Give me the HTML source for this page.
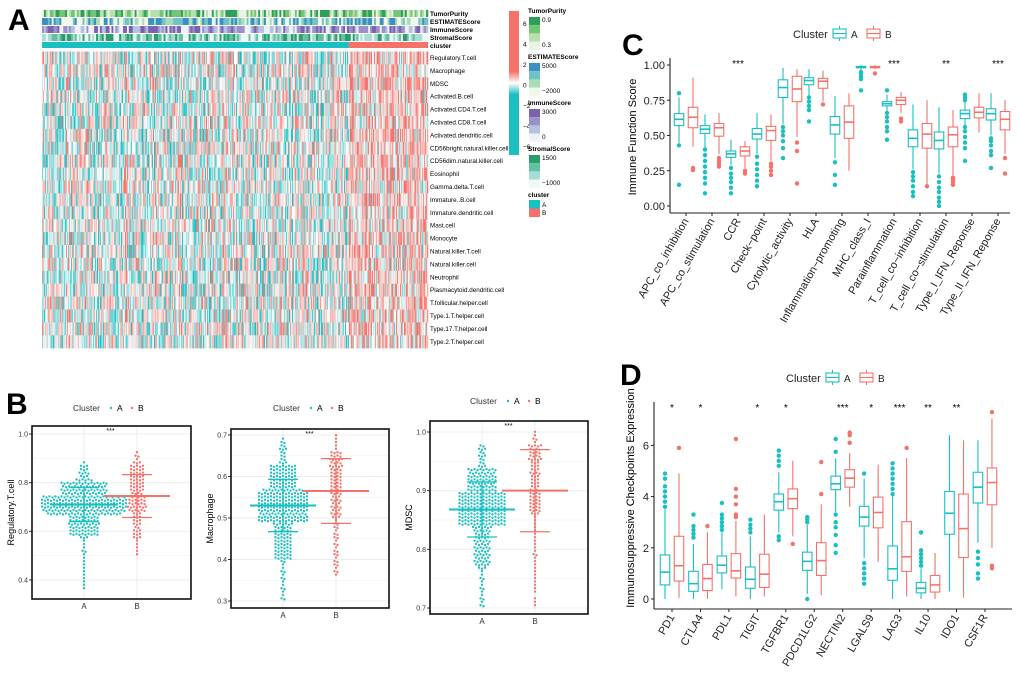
<!DOCTYPE html>
<html><head><meta charset="utf-8"><style>
html,body{margin:0;padding:0;background:#fff}
svg{display:block;font-family:"Liberation Sans",sans-serif}
</style></head><body>
<svg id="fig" width="1020" height="673" viewBox="0 0 1020 673">
<rect width="1020" height="673" fill="#fff"/>
<g id="pA"></g>
<g id="pB"></g>
<g id="pC"></g>
<g id="pD"></g>
</svg>
<script>
const NS="http://www.w3.org/2000/svg";
const CA="#1ABFC2", CB="#F5726A";
function el(p,t,a,txt){const e=document.createElementNS(NS,t);for(const k in a)e.setAttribute(k,a[k]);if(txt!==undefined)e.textContent=txt;p.appendChild(e);return e;}

// ---------- Panel A data ----------
const heatRows=["Regulatory.T.cell","Macrophage","MDSC","Activated.B.cell","Activated.CD4.T.cell","Activated.CD8.T.cell","Activated.dendritic.cell","CD56bright.natural.killer.cell","CD56dim.natural.killer.cell","Eosinophil","Gamma.delta.T.cell","Immature..B.cell","Immature.dendritic.cell","Mast.cell","Monocyte","Natural.killer.T.cell","Natural.killer.cell","Neutrophil","Plasmacytoid.dendritic.cell","T.follicular.helper.cell","Type.1.T.helper.cell","Type.17.T.helper.cell","Type.2.T.helper.cell"];
const annoRows=["TumorPurity","ESTIMATEScore","ImmuneScore","StromalScore","cluster"];
const clusterSizes=[318,82];
const colorbarTicks=[6,4,2,0,-2,-4,-6];

// ---------- Panel B data ----------
const bTitles=["Regulatory.T.cell","Macrophage","MDSC"];
const bQuantA=[[.36,.58,.67,.71,.75,.81,.88],[.30,.40,.49,.53,.57,.63,.69],[.70,.77,.84,.87,.90,.94,.98]];
const bQuantB=[[.50,.57,.68,.74,.82,.88,.93],[.36,.39,.50,.565,.62,.66,.70],[.70,.74,.86,.90,.95,.98,1.0]];
const bCount=[330,110];
const bMeanA=[.71,.53,.868], bSdA=[.07,.063,.047];
const bMeanB=[.745,.565,.90], bSdB=[.088,.078,.07];
const bTicks=[[0.4,0.6,0.8,1.0],[0.3,0.4,0.5,0.6,0.7],[0.7,0.8,0.9,1.0]];

// ---------- Panel C data ----------
const cCats=["APC_co_inhibition","APC_co_stimulation","CCR","Check−point","Cytolytic_activity","HLA","Inflammation−promoting","MHC_class_I","Parainflammation","T_cell_co−inhibition","T_cell_co−stimulation","Type_I_IFN_Reponse","Type_II_IFN_Reponse"];
const cBoxA=[[.45,.57,.615,.655,.77],[.41,.515,.545,.57,.65],[.29,.345,.37,.39,.47],[.37,.475,.51,.55,.66],[.58,.77,.84,.895,.98],[.78,.86,.89,.91,.97],[.34,.51,.575,.635,.78],[.96,.98,.985,.99,1.0],[.67,.71,.725,.74,.79],[.26,.42,.48,.54,.72],[.23,.405,.465,.525,.70],[.57,.62,.655,.68,.74],[.50,.61,.655,.69,.80]];
const cBoxB=[[.42,.555,.63,.70,.91],[.37,.495,.555,.585,.66],[.27,.355,.39,.42,.46],[.32,.465,.535,.565,.65],[.49,.74,.83,.92,.97],[.74,.835,.885,.905,.96],[.25,.48,.595,.71,.80],[.97,.98,.985,.99,1.0],[.66,.72,.75,.77,.81],[.15,.41,.51,.585,.75],[.21,.42,.505,.56,.68],[.52,.625,.665,.70,.80],[.37,.54,.615,.67,.75]];
const cOutA=[[.80,.43,.15],[.09,.16,.2,.24,.28,.32,.36,.40],[.09,.13,.17,.2,.23,.27],[.14,.18,.22,.26,.3,.35],[.34,.41,.46,.5,.53,.56],[.6,.68,.71,.74,.77],[.15,.22,.31],[.82,.9,.92,.94,.95],[.47,.53,.56,.6,.63,.66,.82],[.07,.1,.14,.18,.21,.24],[0,.03,.06,.1,.13,.17,.21],[.32,.41,.45,.49,.53,.56,.75,.77,.79],[.27,.36,.39,.43,.46,.48]];
const cOutB=[[.255,.27],[.28,.3,.32,.34],[.23,.25],[.22,.25,.28,.30],[.16,.39,.45],[.72],[],[.94],[.60,.62],[.14],[.15,.17,.19,.20],[],[.23,.34]];
const cStars=["","","***","","","","","","***","","**","","***"];
const cTicks=[0,0.25,0.5,0.75,1.0];

// ---------- Panel D data ----------
const dCats=["PD1","CTLA4","PDL1","TIGIT","TGFBR1","PDCD1LG2","NECTIN2","LGALS9","LAG3","IL10","IDO1","CSF1R"];
const dBoxA=[[0,.55,1.05,1.72,3.5],[0,.3,.6,1.08,2.15],[.38,1.02,1.32,1.68,2.6],[0,.42,.77,1.25,2.45],[2.6,3.47,3.8,4.1,4.95],[.2,1.12,1.47,1.83,2.9],[3.4,4.27,4.5,4.8,5.5],[1.6,2.85,3.2,3.62,4.7],[0,.73,1.18,2.07,4.05],[0,.24,.42,.65,1.2],[.3,2.53,3.35,4.2,6.4],[2.2,3.75,4.37,4.95,6.2]];
const dBoxB=[[.05,.7,1.3,2.45,4.9],[0,.33,.8,1.35,2.6],[.1,.82,1.1,1.77,3.05],[.1,.45,.97,1.75,3.3],[2.45,3.53,3.92,4.3,5.4],[.15,.92,1.5,2.2,3.7],[3.6,4.37,4.72,5.05,5.7],[1.45,2.78,3.38,3.98,5.25],[.1,1.08,1.65,3.02,5.5],[0,.27,.55,.92,1.8],[.05,1.62,2.75,4.1,6.2],[2.0,3.68,4.55,5.12,7.05]];
const dOutA=[[3.6,3.8,4.0,4.2,4.4,4.7,4.9],[2.4,2.55,2.7,2.85,3.3],[2.7,2.85,3.0,3.15,3.3,3.75],[2.6,2.75,2.9,3.1],[2.3,2.45,5.2,5.4,5.6,5.8],[0,3.0,3.1,3.2],[1.8,2.1,2.5,2.8,3.0,3.3,5.75,6.25],[.6,.8,1.0,1.2,1.4,4.9],[4.1,4.3,4.5,4.7,4.9,5.1,5.3],[1.3,1.45,1.6,1.75,1.9,2.6],[],[.8,1.0,1.35,1.6,1.85]];
const dOutB=[[5.9],[2.85],[3.2,3.3,3.7,4.0,4.3,6.25],[],[2.15],[4.1,5.35],[6.1,6.4,6.5],[],[5.9],[],[],[1.2,1.3,7.3]];
const dStars=["*","*","","*","*","","***","*","***","**","**",""];
const dTicks=[0,2,4,6];

// seeded texture generator (heatmap texture only)
let seed=7;function rnd(){seed=(seed*16807)%2147483647;return (seed-1)/2147483646;}

// ================= Panel A =================
(function(){
const g=document.getElementById('pA');
el(g,'text',{x:8,y:30,'font-size':30,'font-weight':'bold',},'A');
const x0=42,x1=428,N=clusterSizes[0]+clusterSizes[1];const cw=(x1-x0)/N;
const split=x0+clusterSizes[0]*cw;
const annoPal=[["#e8f5e3","#b8e0ae","#74c476","#2f9e58"],["#f0f8e8","#a9dcb8","#6fc3c6","#3b8fc4"],["#eef2f8","#b6c2e2","#9b90c8","#7a62ae"],["#eef8f8","#a8dcd6","#63c0a6","#2a9e6a"]];
const aY=[10,18,26,34,42];
for(let r=0;r<4;r++){const gr=el(g,'g',{});


for(let c=0;c<N;c+=2){el(gr,'rect',{x:x0+c*cw,y:aY[r],width:cw*2+.3,height:7,fill:annoPal[r][Math.floor(rnd()*4)]});}
el(g,'text',{x:430,y:aY[r]+6,'font-size':6.5,'font-weight':'bold'},annoRows[r]);}
el(g,'rect',{x:x0,y:aY[4],width:split-x0,height:6,fill:CA,});
el(g,'rect',{x:split,y:aY[4],width:x1-split,height:6,fill:CB,});
el(g,'text',{x:430,y:aY[4]+6,'font-size':6.5,'font-weight':'bold'},'cluster');
const hy0=51.5,rh=12.9;
function col(v){
 if(v>0){const t=Math.min(1,v);return `rgb(${Math.round(255-(255-245)*t)},${Math.round(255-(255-114)*t)},${Math.round(255-(255-106)*t)})`;}
 const t=Math.min(1,-v);return `rgb(${Math.round(255-(255-26)*t)},${Math.round(255-(255-191)*t)},${Math.round(255-(255-194)*t)})`;}
const hm=el(g,'g',{});
const colBias=[];for(let c=0;c<N;c++)colBias.push((rnd()-.5)*0.6+(c>=clusterSizes[0]?0.3:-0.03));
for(let r=0;r<heatRows.length;r++){
 for(let c=0;c<N;c++){const v=colBias[c]+(rnd()-.5)*1.7;
  el(hm,'rect',{x:x0+c*cw,y:hy0+r*rh,width:cw+.25,height:rh+.2,fill:col(v*1.1)});}
 el(g,'text',{x:430,y:hy0+r*rh+8.5,'font-size':6.3},heatRows[r]);}
const defs=el(g,'defs',{});const lg=el(defs,'linearGradient',{id:'cbg',x1:0,y1:0,x2:0,y2:1});
[[0,'#F5726A'],[.42,'#F5726A'],[.5,'#fff'],[.58,'#1ABFC2'],[1,'#1ABFC2']].forEach(s=>el(lg,'stop',{offset:s[0],'stop-color':s[1]}));
el(g,'rect',{x:509,y:11,width:10,height:144,fill:'url(#cbg)',});
colorbarTicks.forEach((t,i)=>el(g,'text',{x:523,y:26+i*20.5,'font-size':6.5},String(t).replace('-','−')));
const legs=[["TumorPurity",13,annoPal[0],["0.9","0.3"]],["ESTIMATEScore",59,annoPal[1],["5000","−2000"]],["ImmuneScore",105,annoPal[2],["3000","0"]],["StromalScore",151,annoPal[3],["1500","−1000"]]];
legs.forEach(L=>{const lgG=el(g,'g',{});


el(lgG,'text',{x:528,y:L[1],'font-size':6.5,'font-weight':'bold'},L[0]);
for(let i=0;i<4;i++)el(lgG,'rect',{x:529,y:L[1]+4+i*8.2,width:11,height:8.2,fill:L[2][3-i]});
el(lgG,'text',{x:542,y:L[1]+9,'font-size':6.5},L[3][0]);el(lgG,'text',{x:542,y:L[1]+34,'font-size':6.5},L[3][1]);});
el(g,'text',{x:528,y:197,'font-size':6.5,'font-weight':'bold'},'cluster');
el(g,'rect',{x:529,y:200,width:11,height:8.5,fill:CA});el(g,'rect',{x:529,y:208.5,width:11,height:8.5,fill:CB});
el(g,'text',{x:542,y:207,'font-size':6.5},'A');el(g,'text',{x:542,y:215,'font-size':6.5},'B');
})();

// ================= Panel B =================
(function(){
const g=document.getElementById('pB');
el(g,'text',{x:6,y:414,'font-size':30,'font-weight':'bold',},'B');
const frames=[{x0:32,x1:191,y0:426,y1:599,tv0:1.0,ty0:434,tv1:0.4,ty1:580,ax:84,bx:137,ly:411,lx:73},
{x0:231,x1:389,y0:429,y1:608,tv0:0.7,ty0:435,tv1:0.3,ty1:601,ax:283,bx:336,ly:411,lx:273},
{x0:430,x1:588,y0:421,y1:614,tv0:1.0,ty0:432,tv1:0.7,ty1:608,ax:482,bx:535,ly:404,lx:470}];
function qf(q,p){const ps=[0,.05,.25,.5,.75,.95,1];for(let i=1;i<7;i++){if(p<=ps[i]){const t=(p-ps[i-1])/(ps[i]-ps[i-1]);return q[i-1]+t*(q[i]-q[i-1]);}}return q[6];}
frames.forEach((F,k)=>{
 const pg=el(g,'g',{});
 
 
 const Y=v=>F.ty0+(v-F.tv0)*(F.ty1-F.ty0)/(F.tv1-F.tv0);
 const ticks=bTicks[k];const step=ticks[1]-ticks[0];
 for(let v=ticks[0]-step/2;v<=ticks[ticks.length-1]+step/2+1e-9;v+=step/2){const y=Y(v);if(y>F.y0&&y<F.y1)el(pg,'line',{x1:F.x0,x2:F.x1,y1:y,y2:y,stroke:'#ececec','stroke-width':Math.abs(((v-ticks[0])/step)%1)<1e-6?0.9:0.5});}
 [F.ax,F.bx].forEach(x=>el(pg,'line',{x1:x,x2:x,y1:F.y0,y2:F.y1,stroke:'#ececec','stroke-width':0.9}));
 ticks.forEach(t=>{const y=Y(t);el(pg,'line',{x1:F.x0-3,x2:F.x0,y1:y,y2:y,stroke:'#333'});el(pg,'text',{x:F.x0-4,y:y+2.5,'font-size':7,'text-anchor':'end',fill:'#333'},t.toFixed(1));});
 [[bQuantA[k],bCount[0],F.ax,CA],[bQuantB[k],bCount[1],F.bx,CB]].forEach(S=>{
  const bins={};const bh=3.4;
  for(let i=0;i<S[1];i++){const v=qf(S[0],(i+.5)/S[1]);const b=Math.round(Y(v)/bh);(bins[b]=bins[b]||[]).push(b*bh);}
  for(const b in bins){const arr=bins[b];arr.forEach((y,j)=>{const off=(j-(arr.length-1)/2)*3.0;
   const c=el(pg,'circle',{cx:S[2]+off,cy:y+((j%2)?1:0),r:1.15,fill:S[3]});
   
   });}
 });
 [[bMeanA[k],bSdA[k],F.ax,CA],[bMeanB[k],bSdB[k],F.bx,CB]].forEach(S=>{
  const m=Y(S[0]),hi=Y(S[0]+S[1]),lo=Y(S[0]-S[1]);
  el(pg,'line',{x1:S[2]-33,x2:S[2]+33,y1:m,y2:m,stroke:S[3],'stroke-width':2});
  el(pg,'line',{x1:S[2],x2:S[2],y1:hi,y2:lo,stroke:S[3],'stroke-width':1.3});
  el(pg,'line',{x1:S[2]-15,x2:S[2]+15,y1:hi,y2:hi,stroke:S[3],'stroke-width':1.3});
  el(pg,'line',{x1:S[2]-15,x2:S[2]+15,y1:lo,y2:lo,stroke:S[3],'stroke-width':1.3});});
 el(pg,'rect',{x:F.x0,y:F.y0,width:F.x1-F.x0,height:F.y1-F.y0,fill:'none',stroke:'#111','stroke-width':1.6});
 el(pg,'text',{x:(F.ax+F.bx)/2,y:F.y0+7,'font-size':7,'text-anchor':'middle'},'***');
 el(pg,'text',{x:F.ax,y:F.y1+10,'font-size':8,'text-anchor':'middle',fill:'#333'},'A');
 el(pg,'text',{x:F.bx,y:F.y1+10,'font-size':8,'text-anchor':'middle',fill:'#333'},'B');
 const cy=(F.y0+F.y1)/2;el(pg,'text',{x:F.x0-18,y:cy,'font-size':9,'text-anchor':'middle',transform:`rotate(-90 ${F.x0-18} ${cy})`},bTitles[k]);
 el(pg,'text',{x:F.lx,y:F.ly,'font-size':8.5,fill:'#333'},'Cluster');
 el(pg,'circle',{cx:F.lx+38,cy:F.ly-3,r:1.2,fill:CA});el(pg,'text',{x:F.lx+44,y:F.ly,'font-size':8.5},'A');
 el(pg,'circle',{cx:F.lx+59,cy:F.ly-3,r:1.2,fill:CB});el(pg,'text',{x:F.lx+65,y:F.ly,'font-size':8.5},'B');
});
})();

// ================= Box plot helper =================
function boxPanel(g,cfg,cats,bA,bB,oA,oB,stars,ticks,fmt){
 const Y=v=>cfg.yZero-(v-cfg.v0)*cfg.scale;
 const X=i=>cfg.xFirst+i*cfg.dx;
 el(g,'line',{x1:cfg.axX,x2:cfg.axX,y1:cfg.top,y2:cfg.axY,stroke:'#222','stroke-width':1.1});
 el(g,'line',{x1:cfg.axX,x2:cfg.xEnd,y1:cfg.axY,y2:cfg.axY,stroke:'#222','stroke-width':1.1});
 ticks.forEach(t=>{const y=Y(t);el(g,'line',{x1:cfg.axX-3,x2:cfg.axX,y1:y,y2:y,stroke:'#222'});el(g,'text',{x:cfg.axX-5,y:y+4,'font-size':11,'text-anchor':'end',fill:'#222'},fmt(t));});
 cats.forEach((c,i)=>{const x=X(i);
  el(g,'line',{x1:x,x2:x,y1:cfg.axY,y2:cfg.axY+3,stroke:'#222'});
  const lx=x+3,ly=cfg.axY+8;
  const t=el(g,'text',{x:lx,y:ly,'font-size':cfg.fs,'text-anchor':'end',fill:'#222',transform:`rotate(-60 ${lx} ${ly})`},c);
  
  
  if(stars[i])el(g,'text',{x:x,y:cfg.starY,'font-size':10,'text-anchor':'middle'},stars[i]);
  [[bA[i],oA[i],x-cfg.off,CA],[bB[i],oB[i],x+cfg.off,CB]].forEach(S=>{
   const b=S[0],cx=S[2],w=cfg.bw;
   const bg=el(g,'g',{});
   
   
   el(bg,'line',{x1:cx,x2:cx,y1:Y(b[0]),y2:Y(b[1]),stroke:S[3],'stroke-width':1.1});
   el(bg,'line',{x1:cx,x2:cx,y1:Y(b[3]),y2:Y(b[4]),stroke:S[3],'stroke-width':1.1});
   el(bg,'rect',{x:cx-w/2,y:Y(b[3]),width:w,height:Y(b[1])-Y(b[3]),fill:'#fff',stroke:S[3],'stroke-width':1.1});
   el(bg,'line',{x1:cx-w/2,x2:cx+w/2,y1:Y(b[2]),y2:Y(b[2]),stroke:S[3],'stroke-width':1.6});
   S[1].forEach(v=>el(bg,'circle',{cx:cx,cy:Y(v),r:2.2,fill:S[3]}));
  });
 });
 el(g,'text',{x:cfg.ltX,y:cfg.ltY,'font-size':11,fill:'#222'},'Cluster');
 [[CA,'A',cfg.ltX+40],[CB,'B',cfg.ltX+74]].forEach(L=>{const lx=L[2];
  el(g,'rect',{x:lx,y:cfg.ltY-9,width:13,height:9,fill:'none',stroke:L[0],'stroke-width':1.1});
  el(g,'line',{x1:lx,x2:lx+13,y1:cfg.ltY-4.5,y2:cfg.ltY-4.5,stroke:L[0],'stroke-width':1.1});
  el(g,'line',{x1:lx+6.5,x2:lx+6.5,y1:cfg.ltY-12,y2:cfg.ltY-9,stroke:L[0]});
  el(g,'line',{x1:lx+6.5,x2:lx+6.5,y1:cfg.ltY,y2:cfg.ltY+3,stroke:L[0]});
  el(g,'text',{x:lx+18,y:cfg.ltY,'font-size':10,fill:'#222'},L[1]);});
}
(function(){const g=document.getElementById('pC');
el(g,'text',{x:622,y:55,'font-size':30,'font-weight':'bold',},'C');
boxPanel(g,{axX:670,axY:213,top:58,xEnd:1010,yZero:206,v0:0,scale:141,xFirst:686,dx:26,off:7,bw:9.5,fs:11,starY:67,ltX:793,ltY:38},
 cCats,cBoxA,cBoxB,cOutA,cOutB,cStars,cTicks,t=>t.toFixed(2));
el(g,'text',{x:636,y:137,'font-size':11,'text-anchor':'middle',transform:'rotate(-90 636 137)',},'Immune Function Score');
})();
(function(){const g=document.getElementById('pD');
el(g,'text',{x:620,y:385,'font-size':30,'font-weight':'bold',},'D');
boxPanel(g,{axX:654,axY:609,top:402,xEnd:1012,yZero:599,v0:0,scale:25.6,xFirst:672,dx:28.45,off:7,bw:9.5,fs:11,starY:411,ltX:786,ltY:382},
 dCats,dBoxA,dBoxB,dOutA,dOutB,dStars,dTicks,t=>String(t));
el(g,'text',{x:634,y:498,'font-size':11,'text-anchor':'middle',transform:'rotate(-90 634 498)',},'Immunosuppressive Checkpoints Expression');
})();
</script>
</body></html>
